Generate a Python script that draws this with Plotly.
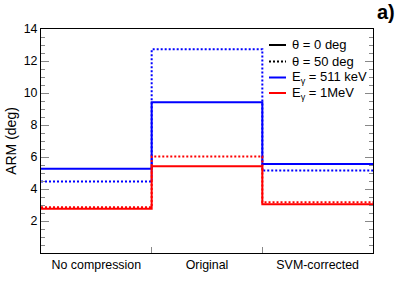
import plotly.graph_objects as go

categories = ["No compression", "Original", "SVM-corrected"]
blue_theta0 = [5.27, 9.42, 5.56]
blue_theta50 = [4.47, 12.74, 5.15]
red_theta0 = [2.76, 5.42, 3.04]
red_theta50 = [2.86, 6.03, 3.17]
y_ticks = [2, 4, 6, 8, 10, 12, 14]

FONT = "Liberation Sans, Arial, Helvetica, sans-serif"
BLUE = "#0000ff"
RED = "#ff0000"

edges = list(range(len(categories) + 1))
centers = [i + 0.5 for i in range(len(categories))]

def step(vals):
    return vals + [vals[-1]]

fig = go.Figure()
series = [
    (blue_theta0, BLUE, "solid"),
    (blue_theta50, BLUE, "2px,2px"),
    (red_theta50, RED, "2px,2px"),
    (red_theta0, RED, "solid"),
]
for vals, col, dash in series:
    fig.add_trace(go.Scatter(
        x=edges, y=step(vals), mode="lines", line_shape="hv",
        line=dict(color=col, width=2, dash=dash), showlegend=False,
        hoverinfo="skip"))

W, H = 415, 282
x0p, y0p, wp, hp = 41, 29, 332, 224   # plot area in window pixels

leg_items = [
    ("θ = 0 deg", "black", "solid"),
    ("θ = 50 deg", "black", "2px,2px"),
    ("E<sub>γ</sub> = 511 keV", BLUE, "solid"),
    ("E<sub>γ</sub> = 1MeV", RED, "solid"),
]
def xd(px):
    return (px - x0p) / wp
def yd(py):
    return (y0p + hp - py) / hp
rows = [45, 61.5, 77.5, 93]
shapes = []
annotations = []
for (txt, col, dash), ry in zip(leg_items, rows):
    shapes.append(dict(type="line", xref="x domain", yref="y domain",
                       x0=xd(269), x1=xd(286), y0=yd(ry), y1=yd(ry),
                       line=dict(color=col, width=2, dash=dash)))
    annotations.append(dict(xref="x domain", yref="y domain", x=xd(290), y=yd(ry),
                            text=txt, showarrow=False, xanchor="left", yanchor="middle",
                            font=dict(family=FONT, size=13, color="black")))

annotations.append(dict(xref="paper", yref="paper", x=xd(386), y=yd(11.5),
                        text="<b>a)</b>", showarrow=False, xanchor="center", yanchor="middle",
                        font=dict(family=FONT, size=20, color="black")))

fig.update_layout(
    width=W, height=H,
    margin=dict(l=x0p, r=W - x0p - wp, t=y0p, b=H - y0p - hp),
    paper_bgcolor="white", plot_bgcolor="white",
    font=dict(family=FONT, size=12, color="black"),
    shapes=shapes, annotations=annotations,
    xaxis=dict(
        range=[0, len(categories)], tickmode="array", tickvals=centers, ticktext=categories,
        ticks="", showgrid=False, zeroline=False, showline=True, linecolor="black",
        linewidth=1, mirror=True, tickfont=dict(size=12.4), automargin=False,
        minor=dict(tickmode="array", tickvals=edges[1:-1], ticks="inside", ticklen=6,
                   tickcolor="#888888", tickwidth=1, showgrid=False),
    ),
    yaxis=dict(
        range=[0, 14], tickmode="array", tickvals=y_ticks, ticks="inside", ticklen=8,
        tickcolor="#888888", showgrid=False, zeroline=False, showline=True, linecolor="black",
        linewidth=1, mirror="allticks", tickfont=dict(size=12.4), automargin=False,
        title=dict(text="ARM (deg)", font=dict(size=14), standoff=3),
        minor=dict(dtick=0.5, tick0=0, ticks="inside", ticklen=4, tickcolor="#888888",
                   showgrid=False),
    ),
)

fig.write_html("out.html", config={"displayModeBar": False},
               post_script="document.body.style.margin='0px';")
